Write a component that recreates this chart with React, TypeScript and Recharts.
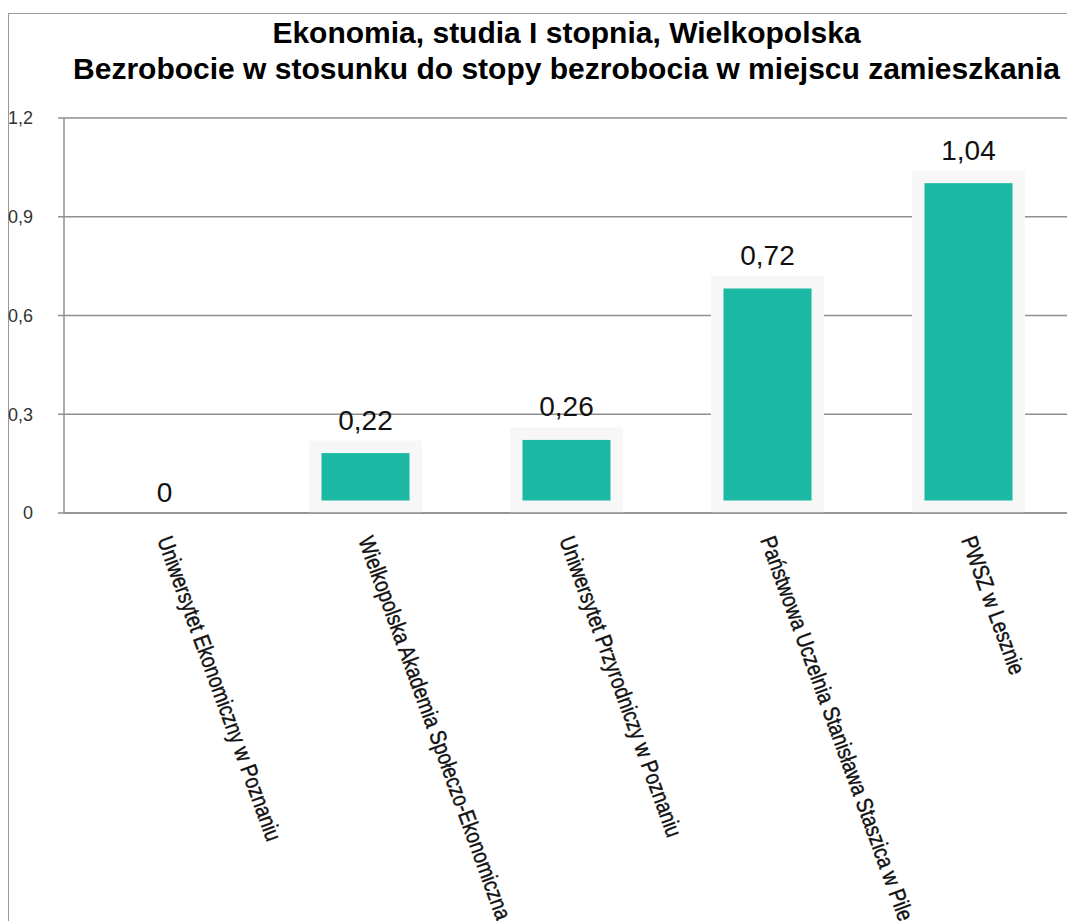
import React from 'react';
import { BarChart, Bar, XAxis, YAxis, CartesianGrid, LabelList } from 'recharts';

const categories = [
  'Uniwersytet Ekonomiczny w Poznaniu',
  'Wielkopolska Akademia Społeczo-Ekonomiczna',
  'Uniwersytet Przyrodniczy w Poznaniu',
  'Państwowa Uczelnia Stanisława Staszica w Pile',
  'PWSZ w Lesznie',
];
const ratios = [0, 0.22, 0.26, 0.72, 1.04];
const yTicks = [0, 0.3, 0.6, 0.9, 1.2];
const edgeTicks = [0, 1, 2, 3, 4, 5];

const titleLines = [
  'Ekonomia, studia I stopnia, Wielkopolska',
  'Bezrobocie w stosunku do stopy bezrobocia w miejscu zamieszkania',
];

const data = categories.map((name, i) => ({ name, value: ratios[i] }));

const TEAL = '#1bb8a4';
const GRID = '#8f8f8f';
const comma = (v: number) => String(v).replace('.', ',');

// framed bar: light box for the full value, teal block inset inside it
const FramedBar = (props: any) => {
  const { x, y, width, height } = props;
  if (!height || height <= 0) return null;
  const pad = 12.5;
  return (
    <g>
      <rect x={x} y={y} width={width} height={height} fill="#f7f7f7" />
      {height > pad * 2 && (
        <rect x={x + pad} y={y + pad} width={width - pad * 2} height={height - pad * 2} fill={TEAL} />
      )}
    </g>
  );
};

// slanted, squeezed category labels
const CategoryTick = (props: any) => {
  const { x, y, payload } = props;
  const ty = y + 24;
  return (
    <g transform={`translate(${x},${ty}) rotate(70) scale(0.83,1)`}>
      <text
        x={0}
        y={0}
        dy="0.35em"
        textAnchor="start"
        fill="#111"
        stroke="#111"
        strokeWidth={0.4}
        style={{ fontFamily: '"Liberation Sans", Arial, sans-serif', fontSize: 23 }}
      >
        {payload.value}
      </text>
    </g>
  );
};

export default function App() {
  return (
    <div style={{ position: 'absolute', left: 0, top: 0, width: 1067, height: 921, overflow: 'hidden', background: '#fff' }}>
      <div style={{ position: 'absolute', left: 8, top: 13, width: 1100, height: 950, borderLeft: `1.5px solid #9a9a9a`, borderTop: `1.5px solid #9a9a9a` }} />
      <div style={{ position: 'absolute', left: 0, top: 0, width: 1133, fontFamily: 'Arial, "Liberation Sans", Helvetica, sans-serif', fontWeight: 'bold', fontSize: 30, color: '#000', textAlign: 'center' }}>
        {titleLines.map((line, i) => (
          <div key={i} style={{ position: 'absolute', left: 0, width: 1133, top: 15 + i * 36, lineHeight: '36px', whiteSpace: 'nowrap' }}>{line}</div>
        ))}
      </div>
      <div style={{ position: 'absolute', left: 0, top: 0 }}>
        <BarChart width={1069} height={921} data={data} margin={{ top: 118, right: 0, bottom: 0, left: 0 }} barSize={113}>
          <CartesianGrid vertical={false} stroke={GRID} strokeWidth={1.5} />
          <XAxis
            xAxisId="edge"
            type="number"
            domain={[0, 5]}
            ticks={edgeTicks}
            tick={false}
            tickSize={5}
            axisLine={false}
            height={0}
            stroke={GRID}
          />
          <XAxis
            dataKey="name"
            interval={0}
            tick={<CategoryTick />}
            tickLine={false}
            tickSize={0}
            tickMargin={0}
            height={408}
            axisLine={{ stroke: GRID, strokeWidth: 1.5 }}
          />
          <YAxis
            width={64}
            domain={[0, 1.2]}
            ticks={yTicks}
            tickFormatter={comma}
            tickSize={6}
            tickMargin={25}
            axisLine={{ stroke: GRID, strokeWidth: 1.5 }}
            tickLine={{ stroke: GRID, strokeWidth: 1.5 }}
            tick={{ fill: '#333', fontSize: 18, fontFamily: 'Arial, "Liberation Sans", sans-serif' }}
          />
          <Bar dataKey="value" shape={<FramedBar />} isAnimationActive={false}>
            <LabelList
              dataKey="value"
              position="top"
              offset={11}
              formatter={(v: any) => comma(v)}
              style={{ fill: '#111', fontSize: 28, fontFamily: 'Arial, "Liberation Sans", Helvetica, sans-serif' }}
            />
          </Bar>
        </BarChart>
      </div>
    </div>
  );
}
